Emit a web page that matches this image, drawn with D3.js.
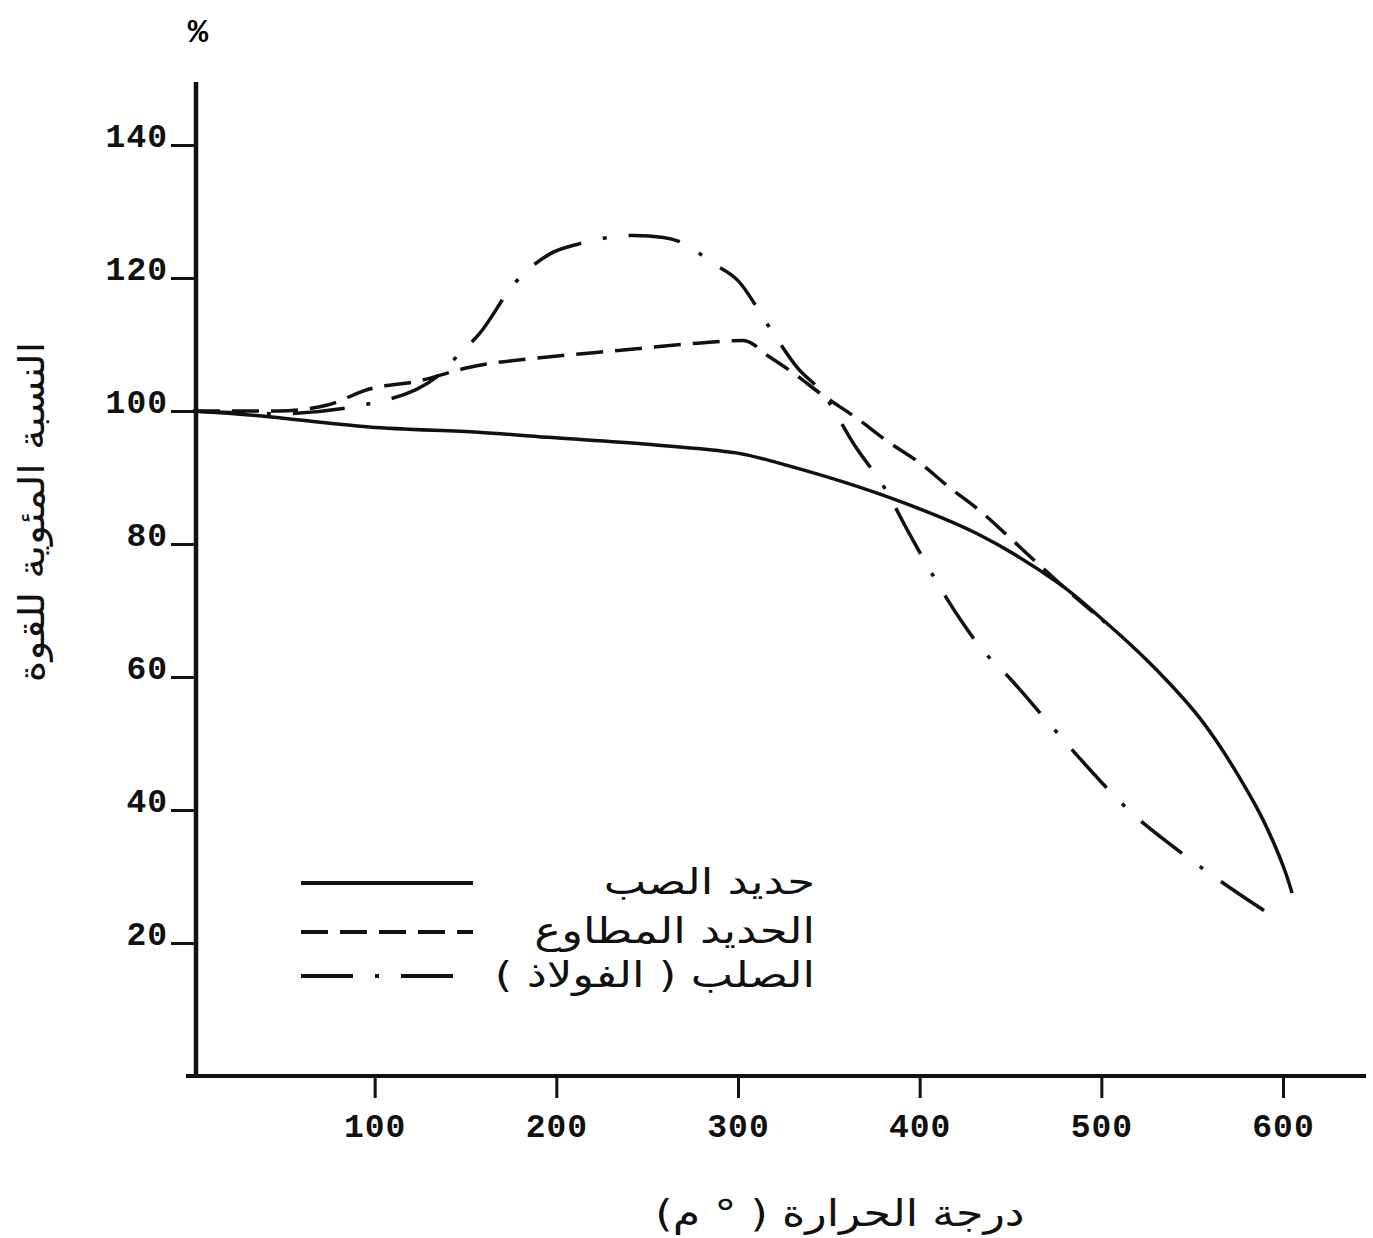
<!DOCTYPE html>
<html lang="ar">
<head>
    <meta charset="UTF-8">
    <title>Strength vs temperature</title>
    <script src="https://d3js.org/d3.v7.min.js"></script>
    <style>
        body { margin: 0; background: #fff; }
        .tick text { font-family: "Liberation Mono", monospace; font-weight: bold; font-size: 33px; fill: #111; letter-spacing: 1px; }
        .tick line { stroke: #111; stroke-width: 3; }
        .ar { font-family: "DejaVu Sans", sans-serif; fill: #111; }
        .curve { fill: none; stroke: #111; stroke-width: 3.5; }
    </style>
</head>
<body>
    <svg width="1373" height="1238"></svg>
    <script>
        // temperature (deg C) and strength (% of room temp)
        const castIronTemp = [0, 36, 97, 157, 198, 250, 299, 322, 377, 432, 477, 500, 521, 538, 554, 565, 576, 587, 594, 601, 605];
        const castIronVal  = [100, 99.3, 97.6, 96.8, 96.0, 95.0, 93.7, 92.2, 87.6, 81.5, 74.0, 68.8, 63.6, 58.9, 53.9, 49.7, 44.9, 39.6, 35.6, 30.9, 27.5];

        const wroughtTemp = [0, 47, 74, 97, 124, 151, 198, 234, 278, 303, 317, 329, 347, 365, 382, 400, 416, 434, 449, 464, 477, 502];
        const wroughtVal  = [100, 100, 100.9, 103.3, 104.5, 106.5, 108.2, 109.1, 110.2, 110.6, 108.2, 106.0, 102.3, 99.0, 95.5, 92.2, 88.6, 84.8, 81.1, 77.3, 74.1, 68.2];

        const steelTemp = [0, 47, 97, 135, 147, 157, 177, 197, 212, 229, 243, 259, 273, 285, 300, 317, 333, 346, 365, 381, 394, 424, 433, 450, 471, 488, 517, 540, 563, 599];
        const steelVal  = [100, 99.6, 101.1, 105.3, 108.7, 111.4, 119.2, 123.7, 125.1, 126.1, 126.4, 126.1, 124.8, 122.4, 119.6, 112.7, 106.4, 102.9, 94.5, 88.3, 81.7, 68.0, 64.6, 59.7, 53.1, 47.8, 39.5, 34.4, 29.8, 23.2];

        const xTicks = [100, 200, 300, 400, 500, 600];
        const yTicks = [20, 40, 60, 80, 100, 120, 140];

        const legendNames = ["حديد الصب", "الحديد المطاوع", "الصلب ( الفولاذ )"];
        const dashes = [null, "27,12", "52,22,4,22"];
        const seriesTemps = [castIronTemp, wroughtTemp, steelTemp];
        const seriesVals = [castIronVal, wroughtVal, steelVal];

        const svg = d3.select("svg");
        const RLM = "\u200F";

        const x = d3.scaleLinear().domain([0, 600]).range([193, 1283]);
        const y = d3.scaleLinear().domain([0, 140]).range([1076, 145]);

        // axes
        svg.append("g")
           .attr("transform", `translate(${x(0) + 3},0)`)
           .call(d3.axisLeft(y).tickValues(yTicks).tickSize(25).tickPadding(3))
           .call(g => g.select(".domain").remove())
           .call(g => g.selectAll(".tick text").attr("dy", "0.05em"));

        svg.append("g")
           .attr("transform", `translate(0,${y(0)})`)
           .call(d3.axisBottom(x).tickValues(xTicks).tickSize(22).tickPadding(16))
           .call(g => g.select(".domain").remove());

        svg.append("line")
           .attr("x1", x(0) + 3).attr("x2", x(0) + 3)
           .attr("y1", 82).attr("y2", y(0) + 2)
           .attr("stroke", "#111").attr("stroke-width", 4.5);
        svg.append("line")
           .attr("x1", 186).attr("x2", 1366)
           .attr("y1", y(0)).attr("y2", y(0))
           .attr("stroke", "#111").attr("stroke-width", 4);

        // curves (cast iron smoother, the others keep their corners)
        const curves = [d3.curveCatmullRom.alpha(0.5), d3.curveMonotoneX, d3.curveMonotoneX];

        seriesTemps.forEach((temps, i) => {
            const line = d3.line()
                .x(d => x(d[0]))
                .y(d => y(d[1]))
                .curve(curves[i]);
            svg.append("path")
               .attr("class", "curve")
               .attr("d", line(temps.map((t, j) => [t, seriesVals[i][j]])))
               .attr("stroke-dasharray", dashes[i]);
        });

        // legend
        const legendY = [883, 932, 976];
        legendNames.forEach((name, i) => {
            svg.append("line")
               .attr("x1", 301).attr("x2", 473)
               .attr("y1", legendY[i]).attr("y2", legendY[i])
               .attr("stroke", "#111").attr("stroke-width", 4)
               .attr("stroke-dasharray", dashes[i]);
            svg.append("text")
               .attr("class", "ar")
               .attr("transform", `translate(815,${legendY[i] + 11}) scale(1.25,1)`)
               .attr("text-anchor", "end")
               .attr("font-size", 36)
               .text(RLM + name + RLM);
        });

        // titles
        svg.append("text")
           .attr("x", 198).attr("y", 42)
           .attr("text-anchor", "middle")
           .attr("font-family", "Liberation Mono, monospace")
           .attr("font-weight", "bold")
           .attr("font-size", 34)
           .text("%");

        svg.append("text")
           .attr("class", "ar")
           .attr("transform", "translate(840,1226) scale(1.2,1)")
           .attr("text-anchor", "middle")
           .attr("font-size", 37)
           .text(RLM + "درجة الحرارة ( ° م)" + RLM);

        svg.append("text")
           .attr("class", "ar")
           .attr("transform", "translate(44,512) rotate(-90) scale(1.15,1)")
           .attr("text-anchor", "middle")
           .attr("font-size", 36)
           .text(RLM + "النسبة المئوية للقوة" + RLM);
    </script>
</body>
</html>
